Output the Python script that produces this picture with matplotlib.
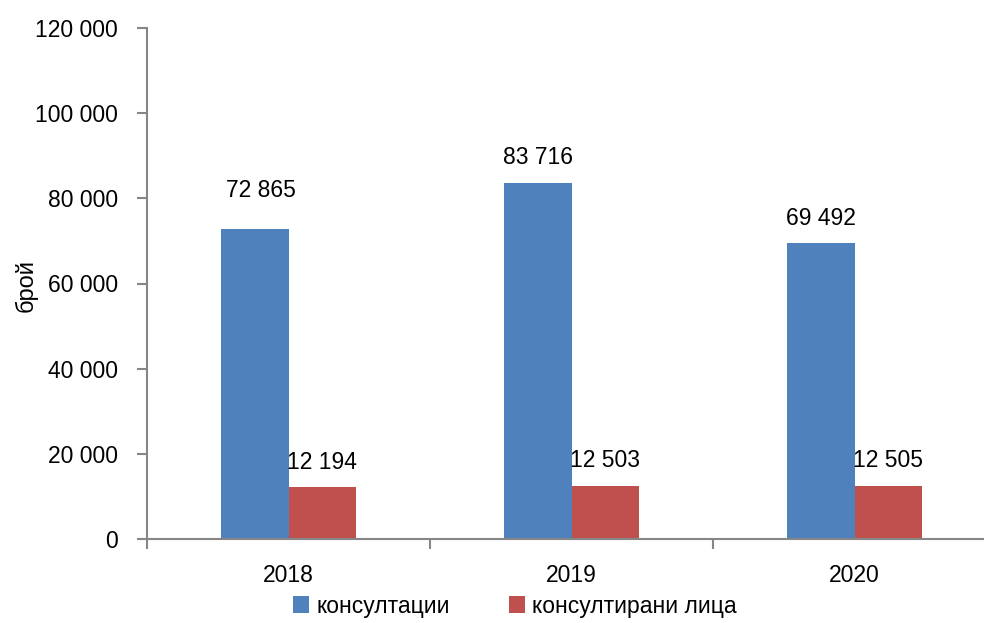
import numpy as np
import matplotlib.pyplot as plt
from matplotlib.ticker import FuncFormatter

# Data
years = ['2018', '2019', '2020']
consultations = [72865, 83716, 69492]
persons = [12194, 12503, 12505]
series_names = ['консултации', 'консултирани лица']

blue = '#4F81BD'
red = '#C0504D'
spine_gray = '#868686'

plt.rcParams['font.family'] = ['Liberation Sans', 'DejaVu Sans']
fs = 16.5

fig = plt.figure(figsize=(9.84, 6.23), dpi=100)
ax = fig.add_axes([147 / 984, 1 - 539 / 623, 849 / 984, 511 / 623])

x = np.arange(len(years))
w = 0.237
b1 = ax.bar(x - w / 2, consultations, w, color=blue, label=series_names[0])
b2 = ax.bar(x + w / 2, persons, w, color=red, label=series_names[1])

# Value labels
for i, rect in enumerate(b1):
    off = 38 if i == 0 else 25
    ax.annotate(f'{consultations[i]:,}'.replace(',', ' '),
                (rect.get_x() + rect.get_width() / 2 + (0.02 if i == 0 else 0), rect.get_height()),
                xytext=(0, off), textcoords='offset pixels',
                ha='center', va='center', fontsize=fs)
for i, rect in enumerate(b2):
    ax.annotate(f'{persons[i]:,}'.replace(',', ' '),
                (rect.get_x() + rect.get_width() / 2, rect.get_height()),
                xytext=(0, 25), textcoords='offset pixels',
                ha='center', va='center', fontsize=fs)

ax.set_ylim(0, 120000)
ax.set_yticks(np.arange(0, 120001, 20000))
ax.yaxis.set_major_formatter(FuncFormatter(lambda v, p: f'{int(v):,}'.replace(',', ' ')))
ax.set_xlim(-0.5, 2.5)
ax.set_xticks(x)
ax.set_xticklabels(years)
ax.set_xticks([-0.5, 0.5, 1.5, 2.5], minor=True)
ax.tick_params(axis='x', which='major', length=0, pad=18, labelsize=fs)
ax.tick_params(axis='x', which='minor', length=7, width=1.5, color=spine_gray, direction='out')
ax.tick_params(axis='y', length=7, width=1.5, color=spine_gray, direction='out', pad=14, labelsize=fs)

for s in ['top', 'right']:
    ax.spines[s].set_visible(False)
for s in ['left', 'bottom']:
    ax.spines[s].set_color(spine_gray)
    ax.spines[s].set_linewidth(1.5)

fig.text(26 / 984, 1 - 285 / 623, 'брой', rotation=90, ha='center', va='center', fontsize=17)

fig.legend(handles=[b1, b2], loc='center', bbox_to_anchor=(515 / 984, 1 - 606 / 623),
           ncol=2, frameon=False, fontsize=fs, handlelength=0.7, handleheight=0.7,
           handletextpad=0.3, columnspacing=2.6)

fig.savefig('out.png', dpi=100)
